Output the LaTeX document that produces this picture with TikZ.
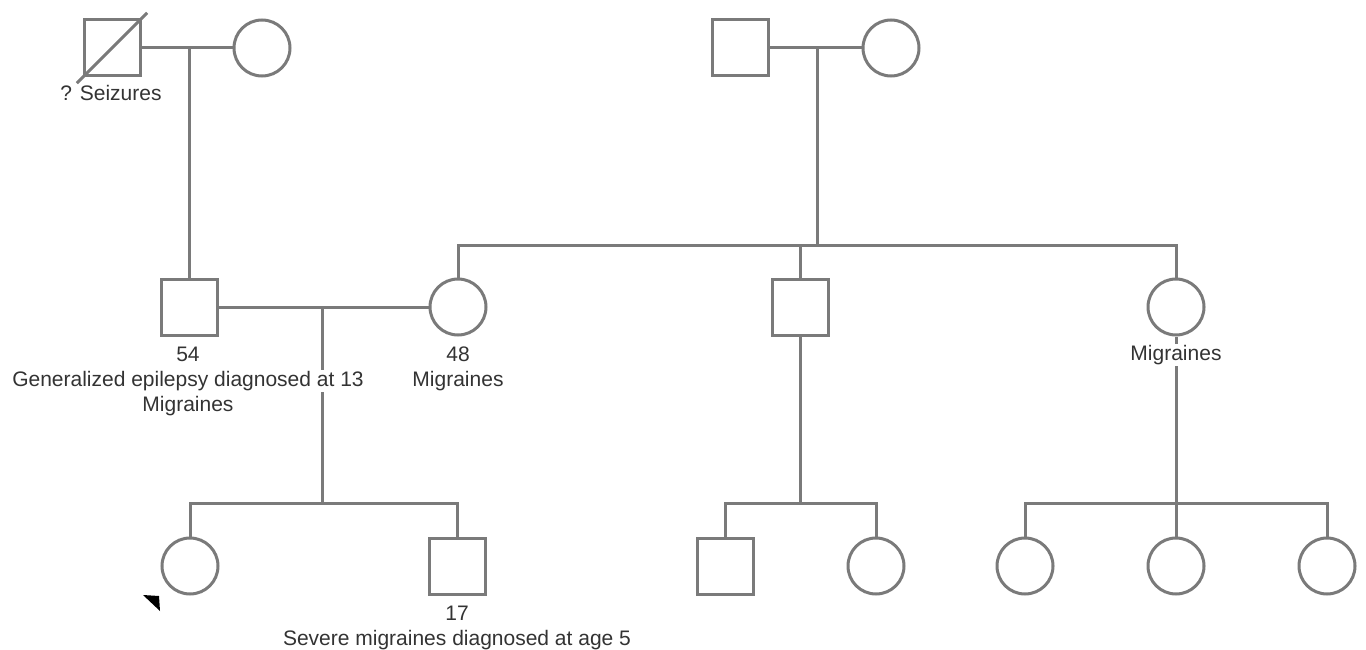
\documentclass[tikz,border=0pt]{standalone}
\usepackage{fontspec}
\setmainfont{Liberation Sans}
\definecolor{pedline}{HTML}{7A7A7A}
\definecolor{pedtext}{HTML}{333333}
\begin{document}
\begin{tikzpicture}[x=1pt, y=-1pt, line width=3pt, pedline,
    male/.style = {shape=rectangle, draw=pedline, minimum size=56pt, inner sep=0pt},
    female/.style = {shape=circle, draw=pedline, minimum size=56pt, inner sep=0pt},
    note/.style = {fill=white, text=pedtext, inner sep=1pt, text height=15pt, text depth=5pt,
                   font=\fontsize{21}{25}\selectfont}]
    \useasboundingbox (0,0) rectangle (1366,650);
    % first generation
    \node[male] (gf) at (112,48) {};
    \node[female] (gm) at (262,48) {};
    \node[male] (mgf) at (740,48) {};
    \node[female] (mgm) at (891,48) {};
    % second generation
    \node[male] (fa) at (189,307) {};
    \node[female] (mo) at (458,307) {};
    \node[male] (uncle) at (800,307) {};
    \node[female] (aunt) at (1176,307) {};
    % third generation
    \node[female] (pro) at (190,566) {};
    \node[male] (bro) at (457,566) {};
    \node[male] (cous1) at (725,566) {};
    \node[female] (cous2) at (876,566) {};
    \node[female] (cous3) at (1025,566) {};
    \node[female] (cous4) at (1176,566) {};
    \node[female] (cous5) at (1327,566) {};
    \coordinate (m1) at (189,48);
    \coordinate (m2) at (817,48);
    \coordinate (s2) at (817,245);
    \coordinate (m3) at (322,307);
    \coordinate (s3) at (322,503);
    % deceased
    \draw[shorten <=-8pt, shorten >=-8pt] (gf.south west) -- (gf.north east);
    % couples and sibships
    \draw (gf) -- (gm);
    \draw (m1) -- (m1 |- fa.north);
    \draw (mgf) -- (mgm);
    \draw (m2) -- (s2);
    \draw (mo.north) -- (mo.north |- s2) -- (aunt.north |- s2) -- (aunt.north);
    \draw (uncle.north) -- (uncle.north |- s2);
    \draw (fa) -- (mo);
    \draw (m3) -- (s3);
    \draw (pro.north) -- (pro.north |- s3) -- (bro.north |- s3) -- (bro.north);
    \draw (uncle.south) -- (uncle.south |- s3);
    \draw (cous1.north) -- (cous1.north |- s3) -- (cous2.north |- s3) -- (cous2.north);
    \draw (aunt.south) -- (aunt.south |- s3);
    \draw (cous3.north) -- (cous3.north |- s3) -- (cous5.north |- s3) -- (cous5.north);
    \draw (cous4.north) -- (cous4.north |- s3);
    % proband
    \fill[black] (143,595) -- (159,596) -- (160,611) -- cycle;
    % labels
    \node[note, fill=none] (gflbl) at (111,96) {? Seizures};
    \node[note] (faage) at (188,356) {54};
    \node[note] (fadx) at (188,381) {Generalized epilepsy diagnosed at 13};
    \node[note, fill=none] (fadx2) at (188,406) {Migraines};
    \node[note] (moage) at (458,356) {48};
    \node[note] (modx) at (458,381) {Migraines};
    \node[note] (auntdx) at (1176,355) {Migraines};
    \node[note] (broage) at (457,615) {17};
    \node[note] (brodx) at (457,640) {Severe migraines diagnosed at age 5};
\end{tikzpicture}
\end{document}
